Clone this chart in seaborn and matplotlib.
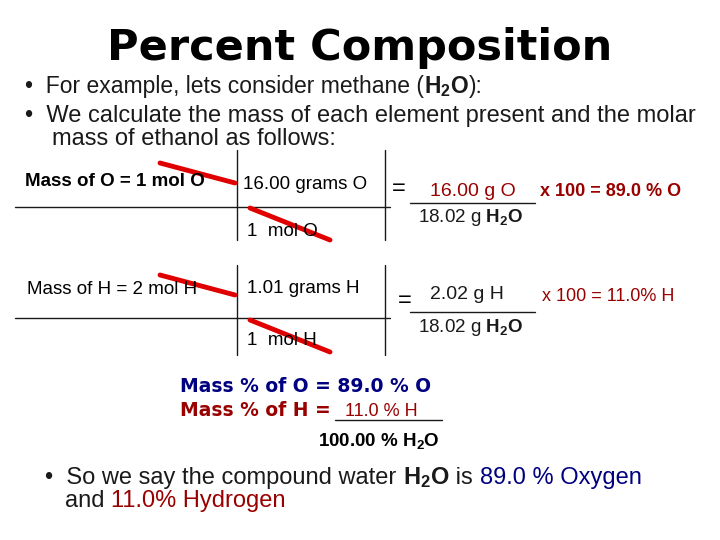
import matplotlib
matplotlib.use("Agg")
import matplotlib.pyplot as plt
import seaborn as sns

sns.set_theme(style="white")
plt.rcParams['font.family'] = ['Liberation Sans', 'DejaVu Sans']
plt.rcParams['text.color'] = 'black'
plt.rcParams['mathtext.fontset'] = 'custom'
plt.rcParams['mathtext.rm'] = 'Liberation Sans'
plt.rcParams['mathtext.bf'] = 'Liberation Sans:bold'

elements = ["O", "H"]
moles = [1, 2]
atomic_mass = ["16.00", "1.01"]
element_mass = ["16.00", "2.02"]
molar_mass = "18.02"
percents = ["89.0", "11.0"]
names = ["Oxygen", "Hydrogen"]

RED = "#990000"
NAVY = "#000080"

fig = plt.figure(figsize=(7.2, 5.4), dpi=100)
ax = fig.add_axes([0, 0, 1, 1])
ax.set_xlim(0, 720); ax.set_ylim(540, 0); ax.axis("off")
fig.canvas.draw()
R = fig.canvas.get_renderer()

def seq(x, y, pieces, size=15):
    for s, c, w in pieces:
        t = ax.text(x, y, s, color=c, fontweight=w, fontsize=size, va="baseline")
        bb = t.get_window_extent(R)
        x += bb.width * 720 / fig.bbox.width

ax.text(360, 60, "Percent Composition", ha="center", fontsize=31,
        fontweight="heavy", family=["DejaVu Sans"], color="black")
seq(25, 93, [("•  For example, lets consider methane (", "k", "normal"),
             (r"$\mathbf{H_2O}$", "k", "bold"), ("):", "k", "normal")], size=16.5)
seq(25, 122, [("•  We calculate the mass of each element present and the molar", "k", "normal")], size=17)
seq(52, 145, [("mass of ethanol as follows:", "k", "normal")], size=17)

blocks = [0, 112]
for i, dy in enumerate(blocks):
    e = elements[i]
    hy = 207 if i == 0 else 318
    ax.plot([15, 390], [hy, hy], color="k", lw=1)
    top = 150 if i == 0 else 265
    ax.plot([237, 237], [top, top + 90], color="k", lw=1)
    ax.plot([385, 385], [top, top + 90], color="k", lw=1)
    ax.text(25 if i == 0 else 27, 186 + dy - (4 if i else 0),
            f"Mass of {e} = {moles[i]} mol {e}", fontsize=13.5, fontweight="bold" if i == 0 else "normal")
    ax.text(243 if i == 0 else 247, 189 + dy - (8 if i else 0),
            f"{atomic_mass[i]} grams {e}", fontsize=13.5)
    ax.text(247, 236 + dy - (3 if i else 0), f"1  mol {e}", fontsize=13.5)
    ax.plot([160, 235], [163 + dy, 183 + dy], color="#e00000", lw=3.5)
    ax.plot([250, 330], [208 + dy, 240 + dy], color="#e00000", lw=3.5)
    ax.text(392 if i == 0 else 398, 195 + dy, "=", fontsize=17)
    ax.text(430, 196 + dy - (9 if i else 0), f"{element_mass[i]} g {e}", fontsize=14, color=RED if i == 0 else "k")
    ax.plot([410, 535], [203 + dy - (3 if i else 0)] * 2, color="k", lw=1)
    ax.text(540 if i == 0 else 542, 196 + dy - (7 if i else 0),
            f"x 100 = {percents[i]}{' ' if i == 0 else ''}% {e}", fontsize=13,
            color=RED, fontweight="bold" if i == 0 else "normal")
    ax.text(418, 222 + dy - (2 if i else 0), f"{molar_mass} g " + r"$\mathbf{H_2O}$", fontsize=13.5, color="k")

ax.text(180, 392, f"Mass % of O = {percents[0]} % O", fontsize=13.5, color=NAVY,
        fontweight="bold", family=["DejaVu Sans"])
ax.text(180, 416, "Mass % of H = ", fontsize=13.5, color=RED, fontweight="bold", family=["DejaVu Sans"])
ax.text(345, 416, f"{percents[1]} % H", fontsize=13, color=RED)
ax.plot([335, 442], [420, 420], color="k", lw=1)
ax.text(318, 446, r"100.00 % $\mathbf{H_2O}$", fontsize=13.5, fontweight="bold")

seq(45, 484, [("•  So we say the compound water ", "k", "normal"),
              (r"$\mathbf{H_2O}$", "k", "bold"), (" is ", "k", "normal"),
              (f"{percents[0]} % {names[0]}", NAVY, "normal")], size=17)
seq(65, 507, [("and ", "k", "normal"), (f"{percents[1]}% {names[1]}", RED, "normal")], size=17)

fig.savefig("out.png", dpi=100)
